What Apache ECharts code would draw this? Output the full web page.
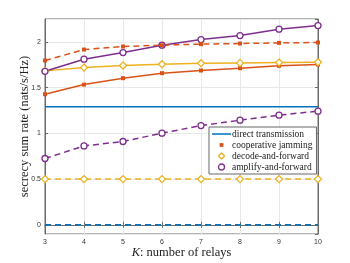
<!DOCTYPE html>
<html><head><meta charset="utf-8">
<script src="https://cdn.jsdelivr.net/npm/echarts@6/dist/echarts.min.js"></script>
<style>html,body{margin:0;padding:0;background:#fff}#c{width:350px;height:263px}</style>
</head><body><div id="c"></div>
<script>
var relays = [3, 4, 5, 6, 7, 8, 9, 10];
var directSolid = [1.29, 1.29, 1.29, 1.29, 1.29, 1.29, 1.29, 1.29];
var directDashed = [0, 0, 0, 0, 0, 0, 0, 0];
var cjSolid = [1.428, 1.533, 1.603, 1.658, 1.687, 1.712, 1.738, 1.752];
var cjDashed = [1.796, 1.916, 1.949, 1.964, 1.975, 1.982, 1.989, 1.993];
var dfSolid = [1.683, 1.719, 1.741, 1.756, 1.767, 1.770, 1.774, 1.778];
var dfDashed = [0.5, 0.5, 0.5, 0.5, 0.5, 0.5, 0.5, 0.5];
var afSolid = [1.678, 1.811, 1.883, 1.964, 2.025, 2.069, 2.139, 2.178];
var afDashed = [0.725, 0.863, 0.911, 1.002, 1.085, 1.144, 1.199, 1.243];
var names = ['direct transmission', 'cooperative jamming', 'decode-and-forward', 'amplify-and-forward'];

var C = {blue:'#0072BD', orange:'#D95319', yellow:'#EDB120', purple:'#7E2F8E'};
function pts(arr){ return relays.map(function(k,i){return [k, arr[i]];}); }
function ser(name, arr, color, dashed, symbol, size, hollow){
  return {
    name: name, type: 'line', data: pts(arr), z: 3,
    symbol: symbol, symbolSize: size, showSymbol: symbol !== 'none',
    lineStyle: {color: color, width: 1.5, type: dashed ? [6, 4] : 'solid'},
    itemStyle: {color: hollow ? '#ffffff' : color, borderColor: color, borderWidth: hollow ? 1.3 : 0},
    emphasis: {disabled: true}, animation: false
  };
}
var series = [
  ser(names[0], directSolid, C.blue, false, 'none', 0, false),
  ser(names[1], cjSolid, C.orange, false, 'rect', 4, false),
  ser(names[2], dfSolid, C.yellow, false, 'diamond', 7, true),
  ser(names[3], afSolid, C.purple, false, 'circle', 6, true),
  ser(names[0], directDashed, C.blue, true, 'none', 0, false),
  ser(names[1], cjDashed, C.orange, true, 'rect', 4, false),
  ser(names[2], dfDashed, C.yellow, true, 'diamond', 7, true),
  ser(names[3], afDashed, C.purple, true, 'circle', 6, true)
];
var axisCol = '#6b6b6b';
var chart = echarts.init(document.getElementById('c'), null, {renderer:'canvas'});
chart.setOption({
  animation: false,
  backgroundColor: '#ffffff',
  grid: {left: 45, right: 32, top: 19, bottom: 29, outerBoundsMode: 'none', containLabel: false,
    show: true, borderColor: axisCol, borderWidth: 1, backgroundColor: 'transparent'},
  xAxis: [{
    type: 'value', min: 3, max: 10, interval: 1,
    axisLine: {show: true, lineStyle: {color: axisCol}},
    axisTick: {show: true, inside: true, length: 3, lineStyle: {color: axisCol}},
    axisLabel: {color: '#333', fontSize: 7, fontFamily: 'Liberation Sans', margin: 5},
    splitLine: {show: true, lineStyle: {color: '#e8e8e8', width: 1}},
    name: '{i|K}: number of relays', nameLocation: 'middle', nameGap: 12, nameMoveOverlap: false,
    nameTextStyle: {color: '#222', fontSize: 12.5, fontFamily: 'Liberation Serif',
      rich: {i: {fontStyle: 'italic', fontSize: 12.5, fontFamily: 'Liberation Serif', color: '#222'}}}
  }, {
    type: 'value', min: 3, max: 10, interval: 1, position: 'top',
    axisLine: {show: true, lineStyle: {color: axisCol}},
    axisTick: {show: true, inside: true, length: 3, lineStyle: {color: axisCol}},
    axisLabel: {show: false}, splitLine: {show: false}
  }],
  yAxis: [{
    type: 'value', min: -0.1, max: 2.25, splitNumber: 5,
    axisLine: {show: true, lineStyle: {color: axisCol}},
    axisTick: {show: true, inside: true, length: 3, lineStyle: {color: axisCol}},
    axisLabel: {color: '#333', fontSize: 7, fontFamily: 'Liberation Sans', margin: 4,
      showMinLabel: false, showMaxLabel: false},
    splitLine: {show: true, lineStyle: {color: '#e8e8e8', width: 1}},
    name: 'secrecy sum rate (nats/s/Hz)', nameLocation: 'middle', nameGap: 14, nameRotate: 90,
    nameMoveOverlap: false,
    nameTextStyle: {color: '#222', fontSize: 12.5, fontFamily: 'Liberation Serif'}
  }, {
    type: 'value', min: -0.1, max: 2.25, splitNumber: 5, position: 'right',
    axisLine: {show: true, lineStyle: {color: axisCol}},
    axisTick: {show: true, inside: true, length: 3, lineStyle: {color: axisCol}},
    axisLabel: {show: false}, splitLine: {show: false}
  }],
  legend: {
    orient: 'vertical', left: 209, top: 127, itemGap: 1, itemWidth: 19, itemHeight: 6,
    padding: [2, 4, 2, 3],
    backgroundColor: '#ffffff', borderColor: '#666', borderWidth: 1,
    textStyle: {fontSize: 9.5, fontFamily: 'Liberation Serif', color: '#222', padding: [0,0,0,-4]},
    selectedMode: false,
    data: [
      {name: names[0], icon: 'path://M0,0H20V1.6H0Z', itemStyle: {color: C.blue, borderWidth: 0}},
      {name: names[1], icon: 'path://M-3,-3M13,13M0,0H10V10H0Z', itemStyle: {color: C.orange, borderWidth: 0}},
      {name: names[2], icon: 'path://M5,0L10,5L5,10L0,5Z', itemStyle: {color: '#fff', borderColor: C.yellow, borderWidth: 1.3}},
      {name: names[3], icon: 'path://M0,5A5,5,0,1,1,10,5A5,5,0,1,1,0,5Z', itemStyle: {color: '#fff', borderColor: C.purple, borderWidth: 1.3}}
    ]
  },
  series: series
});
</script></body></html>
